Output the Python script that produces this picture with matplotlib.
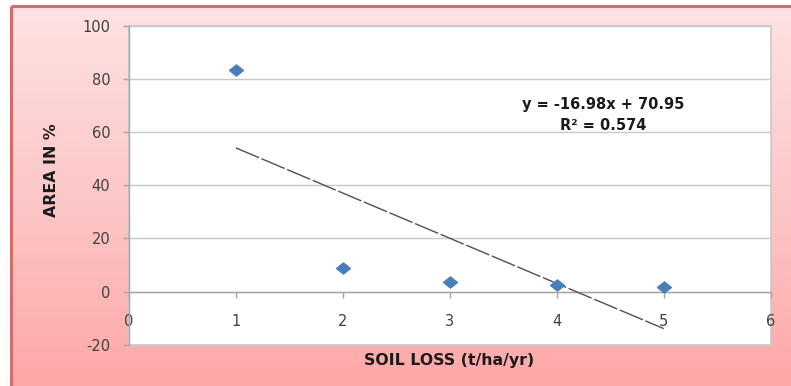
import numpy as np
import matplotlib
matplotlib.use("Agg")
import matplotlib.pyplot as plt
from matplotlib.colors import LinearSegmentedColormap
from matplotlib.patches import Rectangle
from matplotlib.path import Path

# Data
soil_loss = [1, 2, 3, 4, 5]
area_pct = [83.4, 8.9, 3.6, 2.4, 1.75]

# Linear trend stated on the chart
slope = -16.98
intercept = 70.95
r_squared = 0.574

x_ticks = [0, 1, 2, 3, 4, 5, 6]
y_ticks = [-20, 0, 20, 40, 60, 80, 100]

plt.rcParams['font.family'] = ['DejaVu Sans']

W, H = 791, 386
fig = plt.figure(figsize=(W / 100, H / 100), dpi=100)
fig.patch.set_facecolor('white')

# Pink gradient chart frame (runs off the right and bottom edges)
bg = fig.add_axes([0, 0, 1, 1], zorder=-5)
bg.set_xlim(0, W)
bg.set_ylim(H, 0)
bg.axis('off')
cmap = LinearSegmentedColormap.from_list('frame', ['#ffe2e2', '#fcc6c6', '#ffa4a4'])
grad = np.linspace(0, 1, 256).reshape(-1, 1)
bg.imshow(grad, cmap=cmap, aspect='auto', extent=(11, W + 20, H + 20, 6),
          interpolation='bilinear')
bg.set_xlim(0, W)
bg.set_ylim(H, 0)
bg.plot([11, 11], [6, H + 20], color='#d66b6b', lw=2.2, solid_capstyle='butt')
bg.plot([11, W + 20], [6, 6], color='#d66b6b', lw=2.2, solid_capstyle='butt')

# Plot area
left, right, top, bottom = 129, 770.7, 25.5, 344.7
ax = fig.add_axes([left / W, 1 - bottom / H, (right - left) / W, (bottom - top) / H])
ax.set_facecolor('white')
ax.set_xlim(0, 6)
ax.set_ylim(-20, 100)

for s in ['top', 'right']:
    ax.spines[s].set_visible(False)
ax.spines['left'].set_color('#a6a6a6')
ax.spines['left'].set_linewidth(1.0)
ax.spines['bottom'].set_position(('data', 0))
ax.spines['bottom'].set_color('#a6a6a6')
ax.spines['bottom'].set_linewidth(1.0)

# Light frame around plot area
ax.add_patch(Rectangle((0, 0), 1, 1, transform=ax.transAxes, fill=False,
                       edgecolor='#c9c9c9', lw=1.2, zorder=0.5, clip_on=False))

ax.set_yticks(y_ticks)
ax.set_xticks(x_ticks)
ax.set_yticklabels([str(v) for v in y_ticks])
ax.set_xticklabels([str(v) for v in x_ticks])
ax.tick_params(axis='y', direction='out', length=4.5, width=1, color='#a6a6a6',
               labelsize=10.5, labelcolor='#404040', pad=9)
ax.tick_params(axis='x', direction='out', length=4.5, width=1, color='#a6a6a6',
               labelsize=10.5, labelcolor='#404040', pad=12)
ax.grid(axis='y', color='#c8c8c8', lw=1.0)
ax.set_axisbelow(True)

# Data points as flattened diamonds
diamond = Path([(-1, 0), (0, 0.8), (1, 0), (0, -0.8), (-1, 0)],
               [Path.MOVETO, Path.LINETO, Path.LINETO, Path.LINETO, Path.CLOSEPOLY])
ax.plot(soil_loss, area_pct, linestyle='none', marker=diamond, markersize=10,
        color='#4a7ebb', markeredgecolor='#4a7ebb', zorder=4)

# Trend line over the data range
tx = np.array([min(soil_loss), max(soil_loss)])
ax.plot(tx, slope * tx + intercept, color='#4f4f4f', lw=1.0,
        dashes=(18, 2), zorder=3)

ax.text(4.43, 70.2, f"y = {slope:.2f}x + {intercept:.2f}", ha='center', va='center',
        fontsize=10.5, fontweight='bold', color='#1a1a1a')
ax.text(4.43, 62.4, f"R\u00b2 = {r_squared:.3f}", ha='center', va='center',
        fontsize=10.5, fontweight='bold', color='#1a1a1a')

# Axis titles
fig.text(449 / W, 1 - 360 / H, "SOIL LOSS (t/ha/yr)", ha='center', va='center',
         fontsize=11.3, fontweight='bold', color='#1a1a1a')
fig.text(52 / W, 1 - 170 / H, "AREA IN %", ha='center', va='center', rotation=90,
         fontsize=11.3, fontweight='bold', color='#1a1a1a')

fig.savefig('out.png', dpi=100)
